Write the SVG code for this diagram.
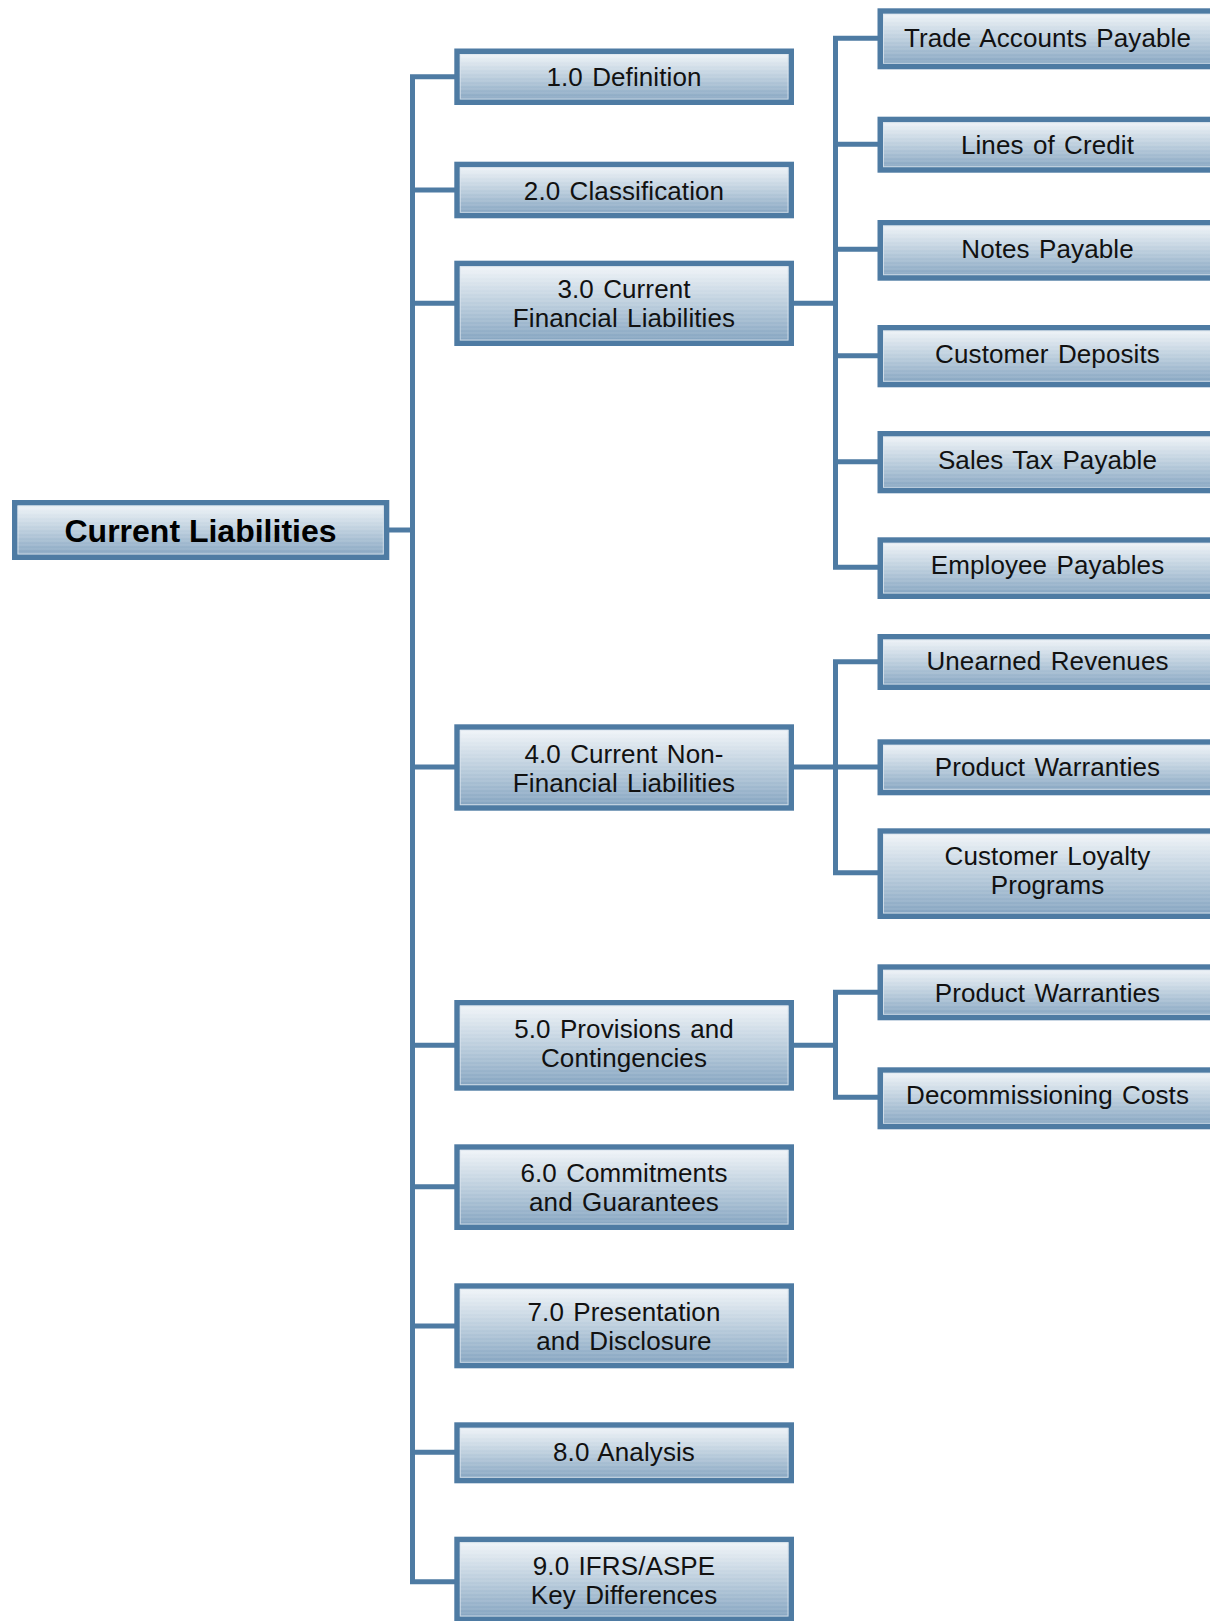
<svg xmlns="http://www.w3.org/2000/svg" width="1210" height="1621" viewBox="0 0 1210 1621">
<defs>
<linearGradient id="fill" x1="0" y1="0" x2="0" y2="1">
<stop offset="0" stop-color="#f4f7fa"/>
<stop offset="0.5" stop-color="#bccedd"/>
<stop offset="1" stop-color="#82a2bf"/>
</linearGradient>
<pattern id="stripes" width="8" height="4" patternUnits="userSpaceOnUse">
<rect x="0" y="0" width="8" height="2" fill="#ffffff" opacity="0.07"/>
</pattern>
<style>
.box{fill:url(#fill);stroke:#4e7ba3;stroke-width:5.5}
.strp{fill:url(#stripes);stroke:none}
.bevel{fill:none;stroke:#dbe5ee;stroke-width:1;opacity:0.8}
.t{font-family:"Liberation Sans",Arial,Helvetica,sans-serif;font-size:26px;fill:#111;text-anchor:middle;word-spacing:2px;letter-spacing:0.1px}
.tb{font-family:"Liberation Sans",Arial,Helvetica,sans-serif;font-size:32px;font-weight:bold;fill:#000;text-anchor:middle}
.c{fill:none;stroke:#4e7ba3;stroke-width:5;stroke-linejoin:miter;stroke-linecap:butt}
</style>
</defs>
<rect width="1210" height="1621" fill="#ffffff"/>
<g id="connectors" class="c">
<path d="M389,530 H412.5"/>
<path d="M456,76.7 H412.5 V1581.7 H456"/>
<path d="M412.5,190 H456 M412.5,303.3 H456 M412.5,767 H456 M412.5,1045.3 H456 M412.5,1186.7 H456 M412.5,1326 H456 M412.5,1452.3 H456"/>
<path d="M879,38.3 H835.5 V567.3 H879"/>
<path d="M793,303.3 H835.5 M835.5,144.3 H879 M835.5,249.3 H879 M835.5,355.7 H879 M835.5,461.7 H879"/>
<path d="M879,661.7 H835.5 V872.7 H879"/>
<path d="M793,767 H879"/>
<path d="M879,992.3 H835.5 V1097.3 H879"/>
<path d="M793,1045.3 H835.5"/>
</g>
<g id="root">
<rect class="box" x="14.75" y="502.75" width="371.8" height="54.5"/>
<rect class="strp" x="17.5" y="505.5" width="366.3" height="49"/>
<rect class="bevel" x="18" y="506" width="365.3" height="48"/>
<text class="tb" x="200.5" y="541.5">Current Liabilities</text>
</g>
<g id="n1">
<rect class="box" x="457.05" y="51.25" width="334.2" height="51"/>
<rect class="strp" x="459.8" y="54" width="328.7" height="45.5"/>
<rect class="bevel" x="460.3" y="54.5" width="327.7" height="44.5"/>
<text class="t" x="624" y="86">1.0 Definition</text>
</g>
<g id="n2">
<rect class="box" x="457.05" y="164.45" width="334.2" height="51.1"/>
<rect class="strp" x="459.8" y="167.2" width="328.7" height="45.6"/>
<rect class="bevel" x="460.3" y="167.7" width="327.7" height="44.6"/>
<text class="t" x="624" y="199.8">2.0 Classification</text>
</g>
<g id="n3">
<rect class="box" x="457.05" y="263.45" width="334.2" height="79.8"/>
<rect class="strp" x="459.8" y="266.2" width="328.7" height="74.3"/>
<rect class="bevel" x="460.3" y="266.7" width="327.7" height="73.3"/>
<text class="t" x="624" y="298.3">3.0 Current</text>
<text class="t" x="624" y="327.3">Financial Liabilities</text>
</g>
<g id="n4">
<rect class="box" x="457.05" y="727.05" width="334.2" height="80.9"/>
<rect class="strp" x="459.8" y="729.8" width="328.7" height="75.4"/>
<rect class="bevel" x="460.3" y="730.3" width="327.7" height="74.4"/>
<text class="t" x="624" y="762.7">4.0 Current Non-</text>
<text class="t" x="624" y="791.7">Financial Liabilities</text>
</g>
<g id="n5">
<rect class="box" x="457.05" y="1002.75" width="334.2" height="85.2"/>
<rect class="strp" x="459.8" y="1005.5" width="328.7" height="79.7"/>
<rect class="bevel" x="460.3" y="1006" width="327.7" height="78.7"/>
<text class="t" x="624" y="1037.8">5.0 Provisions and</text>
<text class="t" x="624" y="1066.8">Contingencies</text>
</g>
<g id="n6">
<rect class="box" x="457.05" y="1147.05" width="334.2" height="80.2"/>
<rect class="strp" x="459.8" y="1149.8" width="328.7" height="74.7"/>
<rect class="bevel" x="460.3" y="1150.3" width="327.7" height="73.7"/>
<text class="t" x="624" y="1181.8">6.0 Commitments</text>
<text class="t" x="624" y="1210.8">and Guarantees</text>
</g>
<g id="n7">
<rect class="box" x="457.05" y="1286.05" width="334.2" height="79.5"/>
<rect class="strp" x="459.8" y="1288.8" width="328.7" height="74"/>
<rect class="bevel" x="460.3" y="1289.3" width="327.7" height="73"/>
<text class="t" x="624" y="1320.7">7.0 Presentation</text>
<text class="t" x="624" y="1349.5">and Disclosure</text>
</g>
<g id="n8">
<rect class="box" x="457.05" y="1425.05" width="334.2" height="55.5"/>
<rect class="strp" x="459.8" y="1427.8" width="328.7" height="50"/>
<rect class="bevel" x="460.3" y="1428.3" width="327.7" height="49"/>
<text class="t" x="624" y="1460.5">8.0 Analysis</text>
</g>
<g id="n9">
<rect class="box" x="457.05" y="1539.45" width="334.2" height="79.8"/>
<rect class="strp" x="459.8" y="1542.2" width="328.7" height="74.3"/>
<rect class="bevel" x="460.3" y="1542.7" width="327.7" height="73.3"/>
<text class="t" x="624" y="1575">9.0 IFRS/ASPE</text>
<text class="t" x="624" y="1603.5">Key Differences</text>
</g>
<g id="r1">
<rect class="box" x="880.25" y="11.05" width="334.5" height="55.5"/>
<rect class="strp" x="883" y="13.8" width="329" height="50"/>
<rect class="bevel" x="883.5" y="14.3" width="328" height="49"/>
<text class="t" x="1047.5" y="46.5">Trade Accounts Payable</text>
</g>
<g id="r2">
<rect class="box" x="880.25" y="119.45" width="334.5" height="50.5"/>
<rect class="strp" x="883" y="122.2" width="329" height="45"/>
<rect class="bevel" x="883.5" y="122.7" width="328" height="44"/>
<text class="t" x="1047.5" y="153.5">Lines of Credit</text>
</g>
<g id="r3">
<rect class="box" x="880.25" y="222.75" width="334.5" height="55.2"/>
<rect class="strp" x="883" y="225.5" width="329" height="49.7"/>
<rect class="bevel" x="883.5" y="226" width="328" height="48.7"/>
<text class="t" x="1047.5" y="257.5">Notes Payable</text>
</g>
<g id="r4">
<rect class="box" x="880.25" y="327.75" width="334.5" height="56.8"/>
<rect class="strp" x="883" y="330.5" width="329" height="51.3"/>
<rect class="bevel" x="883.5" y="331" width="328" height="50.3"/>
<text class="t" x="1047.5" y="363">Customer Deposits</text>
</g>
<g id="r5">
<rect class="box" x="880.25" y="433.75" width="334.5" height="56.8"/>
<rect class="strp" x="883" y="436.5" width="329" height="51.3"/>
<rect class="bevel" x="883.5" y="437" width="328" height="50.3"/>
<text class="t" x="1047.5" y="468.5">Sales Tax Payable</text>
</g>
<g id="r6">
<rect class="box" x="880.25" y="540.05" width="334.5" height="56.2"/>
<rect class="strp" x="883" y="542.8" width="329" height="50.7"/>
<rect class="bevel" x="883.5" y="543.3" width="328" height="49.7"/>
<text class="t" x="1047.5" y="574.2">Employee Payables</text>
</g>
<g id="r7">
<rect class="box" x="880.25" y="636.75" width="334.5" height="50.5"/>
<rect class="strp" x="883" y="639.5" width="329" height="45"/>
<rect class="bevel" x="883.5" y="640" width="328" height="44"/>
<text class="t" x="1047.5" y="670.3">Unearned Revenues</text>
</g>
<g id="r8">
<rect class="box" x="880.25" y="742.05" width="334.5" height="50.5"/>
<rect class="strp" x="883" y="744.8" width="329" height="45"/>
<rect class="bevel" x="883.5" y="745.3" width="328" height="44"/>
<text class="t" x="1047.5" y="776.3">Product Warranties</text>
</g>
<g id="r9">
<rect class="box" x="880.25" y="831.05" width="334.5" height="85.2"/>
<rect class="strp" x="883" y="833.8" width="329" height="79.7"/>
<rect class="bevel" x="883.5" y="834.3" width="328" height="78.7"/>
<text class="t" x="1047.5" y="865.3">Customer Loyalty</text>
<text class="t" x="1047.5" y="894.3">Programs</text>
</g>
<g id="r10">
<rect class="box" x="880.25" y="967.05" width="334.5" height="50.5"/>
<rect class="strp" x="883" y="969.8" width="329" height="45"/>
<rect class="bevel" x="883.5" y="970.3" width="328" height="44"/>
<text class="t" x="1047.5" y="1001.7">Product Warranties</text>
</g>
<g id="r11">
<rect class="box" x="880.25" y="1070.05" width="334.5" height="56.5"/>
<rect class="strp" x="883" y="1072.8" width="329" height="51"/>
<rect class="bevel" x="883.5" y="1073.3" width="328" height="50"/>
<text class="t" x="1047.5" y="1104.3">Decommissioning Costs</text>
</g>
</svg>
